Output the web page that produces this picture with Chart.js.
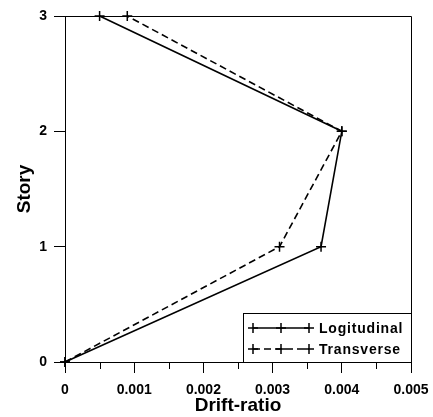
<!DOCTYPE html>
<html>
<head>
<meta charset="utf-8">
<script src="https://cdn.jsdelivr.net/npm/chart.js@4"></script>
<style>
  html, body { margin: 0; padding: 0; background: #fff; }
  canvas { display: block; }
</style>
</head>
<body>
<canvas id="driftChart" width="433" height="417"></canvas>
<script>
// Drift ratio per story, two directions
const stories = [0, 1, 2, 3];
const longitudinal = [0, 0.0037, 0.004, 0.0005];
const transverse = [0, 0.0031, 0.004, 0.0009];
const seriesNames = ['Logitudinal', 'Transverse'];
const minorTicks = [0.0005, 0.0015, 0.0025, 0.0035, 0.0045];

Chart.defaults.font.family = '"Liberation Sans", Arial, sans-serif';
Chart.defaults.color = '#000';

function toPoints(values) {
    return values.map((v, i) => ({ x: v, y: stories[i] }));
}

// Box on top/right, short minor ticks and the legend box
const framePlugin = {
    id: 'framePlugin',
    afterDraw(chart) {
        const { ctx, chartArea: a, scales: { x } } = chart;
        ctx.save();
        ctx.strokeStyle = '#000';
        ctx.lineWidth = 1;
        ctx.beginPath();
        ctx.moveTo(a.left, a.top + 0.5);
        ctx.lineTo(a.right + 0.5, a.top + 0.5);
        ctx.lineTo(a.right + 0.5, a.bottom);
        minorTicks.forEach(v => {
            const px = Math.round(x.getPixelForValue(v)) + 0.5;
            ctx.moveTo(px, a.bottom);
            ctx.lineTo(px, a.bottom + 7);
        });
        ctx.stroke();

        // legend
        const boxL = 243, boxT = 313;
        ctx.fillStyle = '#fff';
        ctx.fillRect(boxL, boxT, a.right - boxL, a.bottom - boxT);
        ctx.strokeRect(boxL + 0.5, boxT + 0.5, a.right - boxL, a.bottom - boxT);

        const rows = [328, 349];
        chart.data.datasets.forEach((ds, i) => {
            const y = rows[i];
            ctx.lineWidth = ds.borderWidth;
            ctx.setLineDash(ds.borderDash || []);
            ctx.beginPath();
            ctx.moveTo(253, y);
            ctx.lineTo(309, y);
            ctx.stroke();
            ctx.setLineDash([]);
            ctx.lineWidth = ds.pointBorderWidth;
            [253, 281, 309].forEach(cx => {
                ctx.beginPath();
                ctx.moveTo(cx - 5, y);
                ctx.lineTo(cx + 5, y);
                ctx.moveTo(cx, y - 5);
                ctx.lineTo(cx, y + 5);
                ctx.stroke();
            });
            ctx.fillStyle = '#000';
            ctx.font = 'bold 14px "Liberation Sans", Arial, sans-serif';
            ctx.letterSpacing = '0.8px';
            ctx.textBaseline = 'middle';
            ctx.textAlign = 'left';
            ctx.fillText(ds.label, 319, y + 1);
        });
        ctx.restore();
    }
};

const ctx = document.getElementById('driftChart').getContext('2d');
new Chart(ctx, {
    type: 'scatter',
    data: {
        datasets: [
            {
                label: seriesNames[0],
                data: toPoints(longitudinal),
                showLine: true,
                borderColor: '#000',
                borderWidth: 1.6,
                pointStyle: 'cross',
                pointRadius: 5,
                pointBorderWidth: 1.5,
                pointBorderColor: '#000',
                clip: false
            },
            {
                label: seriesNames[1],
                data: toPoints(transverse),
                showLine: true,
                borderColor: '#000',
                borderWidth: 1.6,
                borderDash: [7, 4],
                pointStyle: 'cross',
                pointRadius: 5,
                pointBorderWidth: 1.5,
                pointBorderColor: '#000',
                clip: false
            }
        ]
    },
    options: {
        responsive: false,
        animation: false,
        devicePixelRatio: 1,
        layout: { padding: { left: 0, top: 16, right: 22, bottom: 0 } },
        plugins: {
            legend: { display: false },
            tooltip: { enabled: false }
        },
        scales: {
            x: {
                type: 'linear',
                min: 0,
                max: 0.005,
                afterFit: s => {
                    s.height = 55;
                    s.paddingLeft = 0;
                    s.paddingRight = 0;
                },
                border: { display: true, color: '#000', width: 1 },
                grid: { drawOnChartArea: false, drawTicks: true, tickLength: 11, color: '#000' },
                ticks: {
                    stepSize: 0.001,
                    padding: 9,
                    maxRotation: 0,
                    font: { size: 14, weight: 'bold' },
                    callback: v => v === 0 ? '0' : v.toFixed(3)
                },
                title: {
                    display: true,
                    text: 'Drift-ratio',
                    font: { size: 19, weight: 'bold' },
                    padding: { top: 0, bottom: 0 }
                }
            },
            y: {
                type: 'linear',
                min: 0,
                max: 3,
                afterFit: s => { s.width = 65; },
                border: { display: true, color: '#000', width: 1 },
                grid: { drawOnChartArea: false, drawTicks: true, tickLength: 11, color: '#000' },
                ticks: {
                    stepSize: 1,
                    padding: 7,
                    font: { size: 14, weight: 'bold' }
                },
                title: {
                    display: true,
                    text: 'Story',
                    font: { size: 19, weight: 'bold' },
                    padding: { top: 13, bottom: 0 }
                }
            }
        }
    },
    plugins: [framePlugin]
});
</script>
</body>
</html>
